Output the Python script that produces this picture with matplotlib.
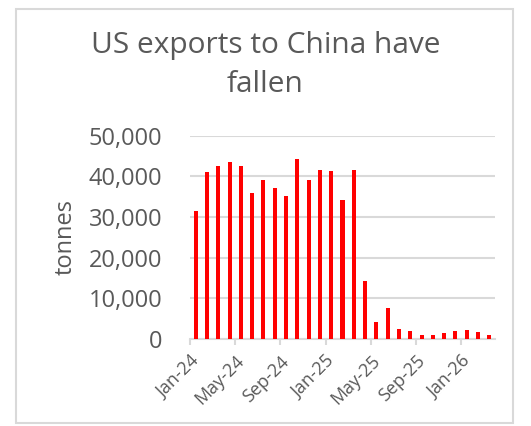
import matplotlib.pyplot as plt
from matplotlib.patches import Rectangle

months = ['Jan-24', 'Feb-24', 'Mar-24', 'Apr-24', 'May-24', 'Jun-24', 'Jul-24',
          'Aug-24', 'Sep-24', 'Oct-24', 'Nov-24', 'Dec-24', 'Jan-25', 'Feb-25',
          'Mar-25', 'Apr-25', 'May-25', 'Jun-25', 'Jul-25', 'Aug-25', 'Sep-25',
          'Oct-25', 'Nov-25', 'Dec-25', 'Jan-26', 'Feb-26', 'Mar-26']
tonnes = [31500, 41000, 42500, 43500, 42500, 35900, 39100, 37100, 35200, 44300,
          39100, 41500, 41300, 34200, 41500, 14200, 4200, 7600, 2400, 1900,
          1100, 1100, 1400, 1900, 2100, 1600, 1100]
tick_labels = ['Jan-24', 'May-24', 'Sep-24', 'Jan-25', 'May-25', 'Sep-25', 'Jan-26']

plt.rcParams['font.family'] = ['Open Sans', 'DejaVu Sans']
grey = '#595959'
line = '#d9d9d9'

fig = plt.figure(figsize=(5.31, 4.26), dpi=100)
fig.patches.append(Rectangle((16 / 531, 3 / 426), 497 / 531, 414 / 426,
                             transform=fig.transFigure, fill=False,
                             edgecolor=line, linewidth=1.5))

ax = fig.add_axes([190 / 531, 1 - 339 / 426, 305 / 531, 203.3 / 426])
x = list(range(len(months)))
ax.bar(x, tonnes, width=0.36, color='#ff0000', zorder=3)

ax.set_xlim(-0.5, len(months) - 0.5)
ax.set_ylim(0, 50000)
ax.set_yticks(range(0, 50001, 10000))
ax.set_yticklabels([f'{v:,}' for v in range(0, 50001, 10000)], fontsize=17, color=grey)
ax.yaxis.grid(True, color=line, linewidth=1.5, zorder=0)
ax.tick_params(axis='y', length=0, pad=20)

pos = [months.index(m) - 0.5 for m in tick_labels]
ax.set_xticks(pos)
ax.set_xticklabels(tick_labels, rotation=45, ha='right', rotation_mode='anchor',
                   fontsize=13, color=grey)
ax.tick_params(axis='x', length=4.5, width=1.5, color=line, pad=5)

for s in ['top', 'right', 'left']:
    ax.spines[s].set_visible(False)
ax.spines['bottom'].set_color(line)
ax.spines['bottom'].set_linewidth(1.5)

ax.set_ylabel('tonnes', fontsize=17, color=grey, labelpad=8)
fig.text(0.5, 1 - 65 / 426, 'US exports to China have\nfallen', ha='center', va='center',
         fontsize=21.5, color=grey, linespacing=1.45)

fig.savefig('out.png', dpi=100)
